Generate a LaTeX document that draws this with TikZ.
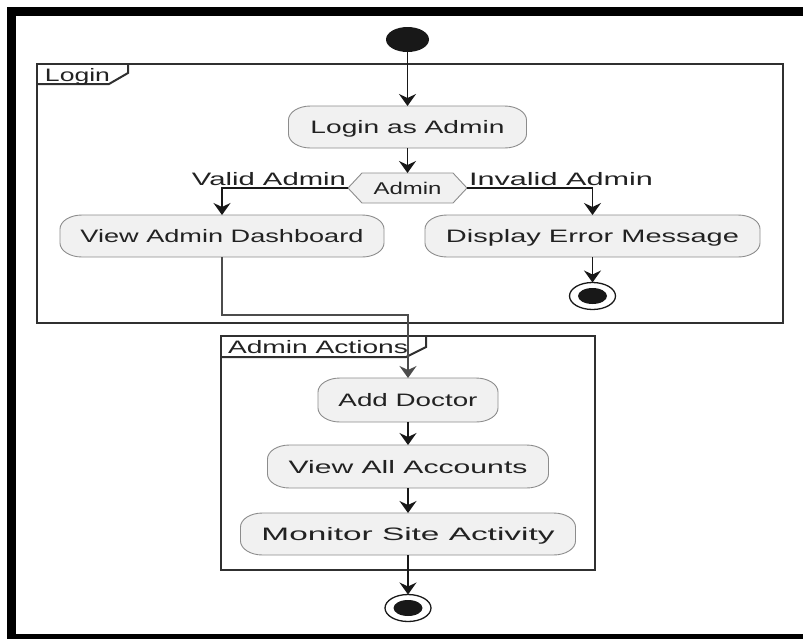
\documentclass[tikz,border=0pt]{standalone}
\usepackage{fontspec}
\setmainfont{Liberation Sans}
\usetikzlibrary{arrows.meta,calc,shapes.geometric}
\pgfdeclarelayer{background}
\pgfsetlayers{background,main}
\definecolor{actfill}{HTML}{F1F1F1}
\definecolor{actline}{HTML}{8C8C8C}
\definecolor{flowcol}{HTML}{181818}
\definecolor{framecol}{HTML}{303030}
\definecolor{txtcol}{HTML}{222222}
% stretch a text to a given width, keeping its height
\newcommand\wtext[2]{\resizebox{#1pt}{\height}{#2}}
% activity outline with elliptic corners
\newcommand\actoutline[1]{%
  \path[fill=actfill, draw=actline, line width=0.9pt]
    ($(#1.north west)+(22pt,0pt)$) -- ($(#1.north east)+(-22pt,0pt)$)
    arc[start angle=90, end angle=0, x radius=22pt, y radius=14pt]
    -- ($(#1.south east)+(0pt,14pt)$)
    arc[start angle=0, end angle=-90, x radius=22pt, y radius=14pt]
    -- ($(#1.south west)+(22pt,0pt)$)
    arc[start angle=270, end angle=180, x radius=22pt, y radius=14pt]
    -- ($(#1.north west)+(0pt,-14pt)$)
    arc[start angle=180, end angle=90, x radius=22pt, y radius=14pt] -- cycle;}
\tikzset{
  act/.style={rectangle, inner sep=0pt, outer sep=0pt, minimum height=42pt,
    text height=16.5pt, text depth=3.5pt, text=txtcol,
    font=\fontsize{18}{21}\selectfont},
  lbl/.style={inner sep=0pt, outer sep=0pt, text=txtcol,
    font=\fontsize{18}{21}\selectfont},
  flow/.style={draw=flowcol, line width=1.6pt,
    -{Stealth[length=12pt, width=17pt, inset=4pt]}},
  frameline/.style={draw=framecol, line width=2.6pt},
  tabline/.style={draw=framecol, line width=2pt},
  startdot/.style={ellipse, fill=flowcol, inner sep=0pt, outer sep=0pt,
    minimum width=43pt, minimum height=25pt},
  endring/.style={ellipse, draw=flowcol, fill=white, line width=1.3pt,
    inner sep=0pt, outer sep=0pt, minimum width=46pt, minimum height=27pt},
  enddot/.style={ellipse, fill=flowcol, inner sep=0pt, outer sep=0pt,
    minimum width=29pt, minimum height=16pt},
}
\begin{document}
\begin{tikzpicture}[x=1pt, y=-1pt]
\useasboundingbox (0,0) rectangle (803,638);
% outer border, open to the right and bottom
\begin{scope}
  \clip (0,0) rectangle (803,638);
  \draw[line width=8.4pt, black] (11.5,11.5) rectangle (850,638);
\end{scope}

% ---- Login partition
\draw[frameline] (37,64) rectangle (783,323);
\draw[tabline] (37,84) -- (109,84) -- (128,73) -- (128,64);
\node[lbl, anchor=base west] (logintab) at (45,81) {\wtext{65}{Login}};

\node[startdot] (start) at (407.5,39.5) {};
\node[act, minimum width=238pt] (login) at (407.5,127) {\wtext{194}{Login as Admin}};
\node[act, minimum width=119pt, minimum height=30pt, text height=14pt, text depth=2pt,
  font=\fontsize{17}{20}\selectfont]
  (choice) at (407.5,188) {\wtext{68}{Admin}};
\node[act, minimum width=324pt] (dash) at (222,236) {\wtext{283}{View Admin Dashboard}};
\node[act, minimum width=335pt] (err) at (592.5,236) {\wtext{293}{Display Error Message}};
\node[endring] (end1) at (592.5,296) {};
\node[enddot] (end1in) at (end1.center) {};

\node[lbl, anchor=base east] (validlbl) at (346,185.5) {\wtext{154}{Valid Admin}};
\node[lbl, anchor=base west] (invalidlbl) at (469,185.5) {\wtext{184}{Invalid Admin}};

% ---- Admin Actions partition
\draw[frameline] (221,336) rectangle (595,570);
\draw[tabline] (221,357) -- (406,357) -- (426,347) -- (426,336);
\node[lbl, anchor=base west] (actionstab) at (228,353) {\wtext{180}{Admin Actions}};

\node[act, minimum width=180pt, minimum height=44pt] (add) at (408,400) {\wtext{139}{Add Doctor}};
\node[act, minimum width=281pt, minimum height=43pt] (viewall) at (408,466.5) {\wtext{239}{View All Accounts}};
\node[act, minimum width=335pt] (monitor) at (408,534) {\wtext{293}{Monitor Site Activity}};
\node[endring] (end2) at (408,608) {};
\node[enddot] (end2in) at (end2.center) {};

% activity shapes behind their texts
\begin{pgfonlayer}{background}
  \actoutline{login}
  \actoutline{dash}
  \actoutline{err}
  \actoutline{add}
  \actoutline{viewall}
  \actoutline{monitor}
  \path[fill=actfill, draw=actline, line width=0.9pt]
    (choice.west) -- ($(choice.north west)+(14pt,0pt)$)
    -- ($(choice.north east)+(-14pt,0pt)$) -- (choice.east)
    -- ($(choice.south east)+(-14pt,0pt)$)
    -- ($(choice.south west)+(14pt,0pt)$) -- cycle;
\end{pgfonlayer}

% ---- control flow
\draw[flow] (start.south) -- (login.north);
\draw[flow] (login.south) -- (choice.north);
\draw[flow] (choice.west) -| (dash.north);
\draw[flow] (choice.east) -| (err.north);
\draw[flow] (err.south) -- (end1.north);
\draw[flow, draw=black!70] (dash.south) -- ++(0,58) -| (add.north);
\draw[flow] (add.south) -- (viewall.north);
\draw[flow] (viewall.south) -- (monitor.north);
\draw[flow] (monitor.south) -- (end2.north);
\end{tikzpicture}
\end{document}
